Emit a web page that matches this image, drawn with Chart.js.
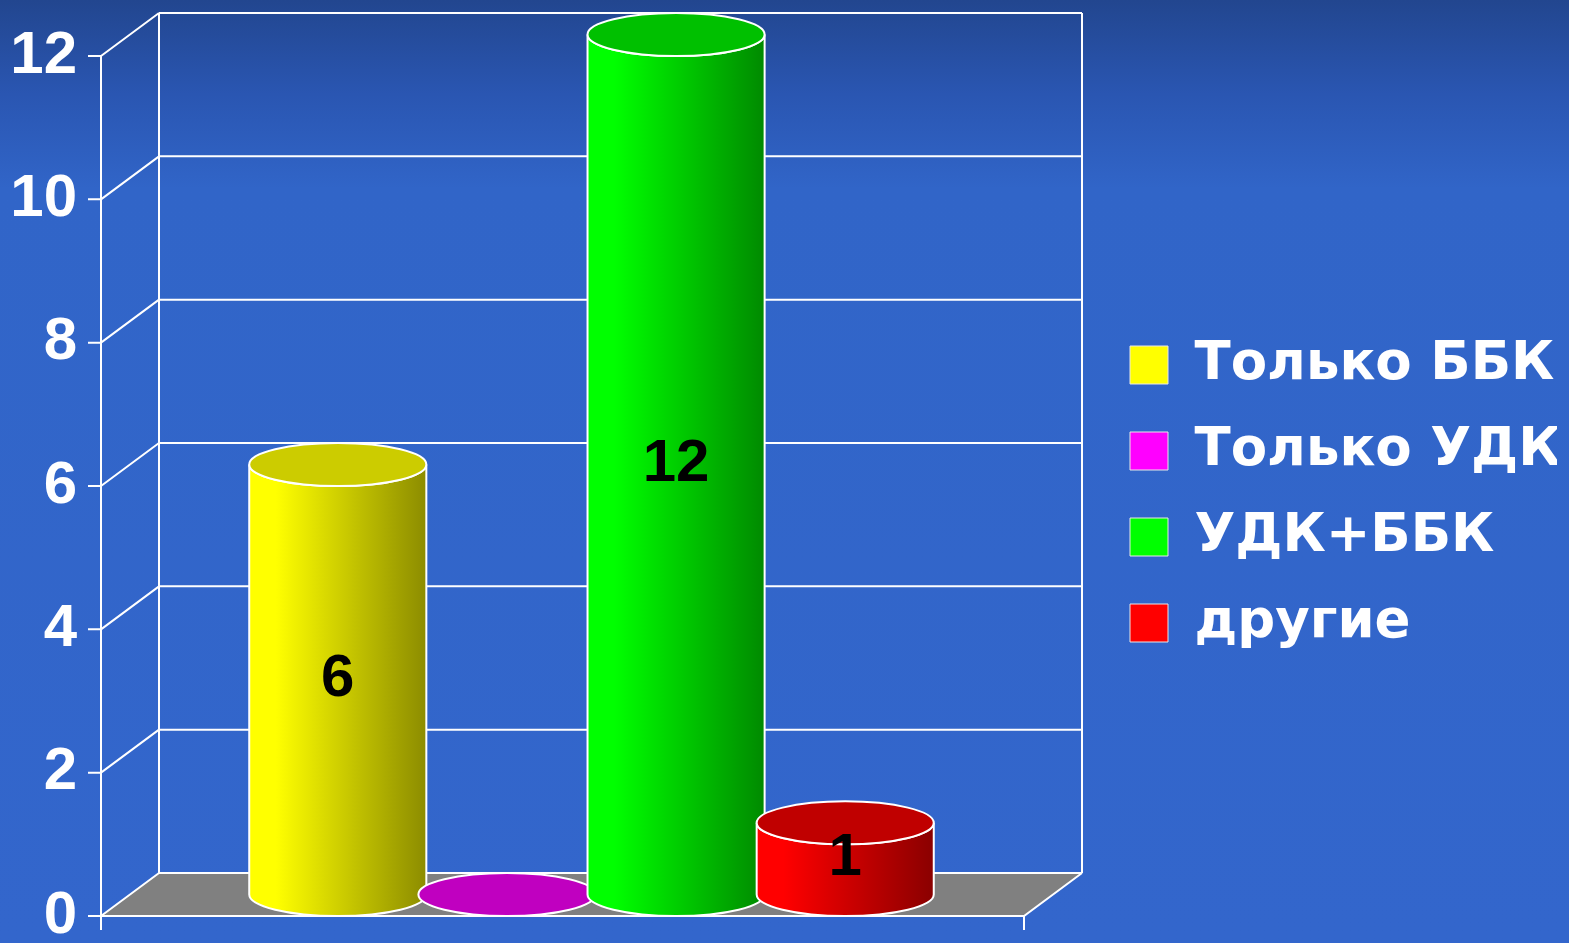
<!DOCTYPE html>
<html>
<head>
<meta charset="utf-8">
<script src="https://cdn.jsdelivr.net/npm/chart.js@4.4.0/dist/chart.umd.min.js"></script>
<style>
    html, body {
        margin: 0;
        padding: 0;
        overflow: hidden;
        background: linear-gradient(to bottom, #22468f 0%, #2a56b2 10%, #3165c8 20%, #3366cc 100%);
    }
    canvas { display: block; }
</style>
</head>
<body>
<canvas id="cylChart" width="1569" height="943"></canvas>
<script>
const seriesNames = ['Только ББК', 'Только УДК', 'УДК+ББК', 'другие'];
const seriesValues = [6, 0, 12, 1];
const seriesColors = ['#ffff00', '#ff00ff', '#00ff00', '#ff0000'];
const yTicks = [0, 2, 4, 6, 8, 10, 12];

// shading for each cylinder: side gradient (light -> dark) and top cap
const sideLight = ['#ffff00', '#e000e0', '#00ff00', '#ff0000'];
const sideDark = ['#8c8c00', '#800080', '#008a00', '#8a0000'];
const capColor = ['#cccc00', '#c000c0', '#00c000', '#c00000'];

const DEPTH_X = 58;
const DEPTH_Y = 43;
const FONT = '"Liberation Sans", Arial, sans-serif';
const LEGEND_FONT = '"DejaVu Sans", "Liberation Sans", Arial, sans-serif';

const frame3d = {
    id: 'frame3d',
    beforeDatasetsDraw(chart) {
        const ctx = chart.ctx;
        const area = chart.chartArea;
        const yScale = chart.scales.y;
        const L = area.left, R = area.right, B = area.bottom, T = yScale.getPixelForValue(yTicks[yTicks.length - 1]);

        ctx.save();
        // floor
        ctx.fillStyle = '#808080';
        ctx.beginPath();
        ctx.moveTo(L, B);
        ctx.lineTo(R, B);
        ctx.lineTo(R + DEPTH_X, B - DEPTH_Y);
        ctx.lineTo(L + DEPTH_X, B - DEPTH_Y);
        ctx.closePath();
        ctx.fill();

        ctx.strokeStyle = '#ffffff';
        ctx.lineWidth = 2;
        ctx.beginPath();
        yTicks.forEach(v => {
            const y = yScale.getPixelForValue(v);
            ctx.moveTo(L + DEPTH_X, y - DEPTH_Y);
            ctx.lineTo(R + DEPTH_X, y - DEPTH_Y);
            ctx.moveTo(L, y);
            ctx.lineTo(L + DEPTH_X, y - DEPTH_Y);
            ctx.moveTo(L - 13, y);
            ctx.lineTo(L, y);
        });
        // walls and axis
        ctx.moveTo(L, T);
        ctx.lineTo(L, B + 14);
        ctx.moveTo(L + DEPTH_X, T - DEPTH_Y);
        ctx.lineTo(L + DEPTH_X, B - DEPTH_Y);
        ctx.moveTo(R + DEPTH_X, T - DEPTH_Y);
        ctx.lineTo(R + DEPTH_X, B - DEPTH_Y);
        // floor front edges
        ctx.moveTo(L, B);
        ctx.lineTo(R, B);
        ctx.lineTo(R + DEPTH_X, B - DEPTH_Y);
        ctx.moveTo(R, B);
        ctx.lineTo(R, B + 14);
        ctx.stroke();

        // cylinders
        const ox = DEPTH_X / 2, oy = -DEPTH_Y / 2, ry = DEPTH_Y / 2;
        chart.data.datasets.forEach((ds, i) => {
            const el = chart.getDatasetMeta(i).data[0];
            if (!el) return;
            const cx = el.x + ox;
            const rx = el.width / 2;
            const yTop = el.y + oy;
            const yBot = el.base + oy;

            if (yBot - yTop > 0.5) {
                const grad = ctx.createLinearGradient(cx - rx, 0, cx + rx, 0);
                grad.addColorStop(0, sideLight[i]);
                grad.addColorStop(0.15, sideLight[i]);
                grad.addColorStop(1, sideDark[i]);
                ctx.fillStyle = grad;
                ctx.beginPath();
                ctx.moveTo(cx - rx, yTop);
                ctx.lineTo(cx - rx, yBot);
                ctx.ellipse(cx, yBot, rx, ry, 0, Math.PI, 0, true);
                ctx.lineTo(cx + rx, yTop);
                ctx.ellipse(cx, yTop, rx, ry, 0, 0, Math.PI, false);
                ctx.closePath();
                ctx.fill();
                ctx.stroke();
            }
            ctx.fillStyle = capColor[i];
            ctx.beginPath();
            ctx.ellipse(cx, yTop, rx, ry, 0, 0, Math.PI * 2);
            ctx.fill();
            ctx.stroke();

            const v = ds.data[0];
            if (v > 0) {
                ctx.fillStyle = '#000000';
                ctx.font = 'bold 60px ' + FONT;
                ctx.textAlign = 'center';
                ctx.textBaseline = 'middle';
                ctx.fillText(String(v), cx, (yTop + yBot) / 2);
            }
        });
        ctx.restore();
        return false;
    }
};

const ctx = document.getElementById('cylChart').getContext('2d');
new Chart(ctx, {
    type: 'bar',
    data: {
        labels: [''],
        datasets: seriesNames.map((name, i) => ({
            label: name,
            data: [seriesValues[i]],
            backgroundColor: seriesColors[i],
            borderColor: '#e8e8e8',
            borderWidth: 1,
            categoryPercentage: 0.733,
            barPercentage: 1.047
        }))
    },
    options: {
        responsive: false,
        animation: false,
        devicePixelRatio: 1,
        layout: {
            padding: { left: 0, right: 12, top: 56, bottom: 27 }
        },
        scales: {
            x: { display: false },
            y: {
                position: 'left',
                min: 0,
                max: 12,
                ticks: {
                    stepSize: 2,
                    padding: 24,
                    color: '#ffffff',
                    font: { family: FONT, size: 60, weight: 'bold' }
                },
                grid: { display: false, drawTicks: false },
                border: { display: false },
                afterFit(scale) {
                    scale.width = 101;
                    scale.paddingTop = 0;
                    scale.paddingBottom = 0;
                }
            },
            yGap: {
                position: 'right',
                ticks: { display: false },
                grid: { display: false, drawTicks: false },
                border: { display: false },
                afterFit(scale) {
                    scale.width = 73;
                    scale.paddingTop = 0;
                    scale.paddingBottom = 0;
                }
            }
        },
        plugins: {
            legend: {
                position: 'right',
                maxWidth: 460,
                title: {
                    display: true,
                    text: ' ',
                    padding: 2,
                    font: { size: 10 }
                },
                labels: {
                    color: '#ffffff',
                    boxWidth: 38,
                    boxHeight: 38,
                    padding: 33,
                    font: { family: LEGEND_FONT, size: 53, weight: 'bold' }
                }
            },
            tooltip: { enabled: false }
        }
    },
    plugins: [frame3d]
});
</script>
</body>
</html>
